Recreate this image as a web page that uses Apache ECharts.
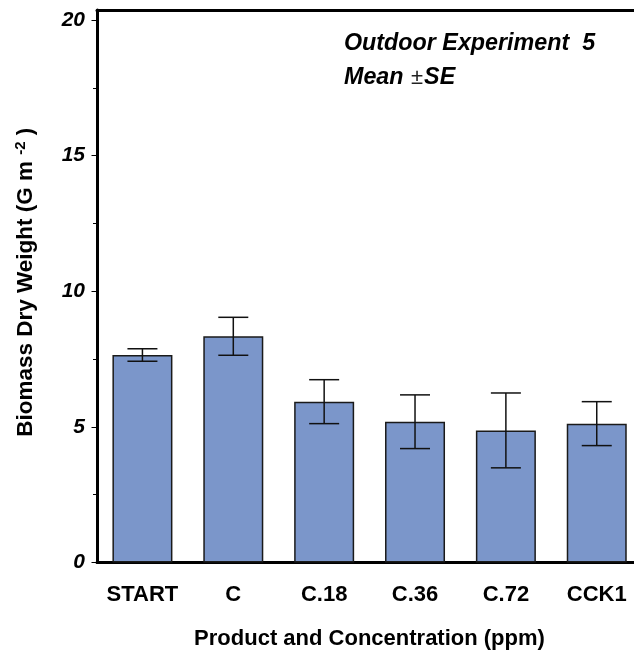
<!DOCTYPE html>
<html>
<head>
<meta charset="utf-8">
<script src="https://cdn.jsdelivr.net/npm/echarts@6/dist/echarts.min.js"></script>
<style>
  html, body { margin: 0; padding: 0; background: #fff; }
  #chart { width: 634px; height: 650px; }
</style>
</head>
<body>
<div id="chart"></div>
<script>
// Treatments (product and concentration)
const categories = ['START', 'C', 'C.18', 'C.36', 'C.72', 'CCK1'];
// Mean biomass dry weight, g m-2
const means = [7.65, 8.34, 5.93, 5.19, 4.87, 5.12];
// Standard error of each mean
const stdErrors = [0.23, 0.70, 0.81, 0.99, 1.38, 0.81];
// Y axis tick values
const majorTicks = [0, 5, 10, 15, 20];
const minorTicks = [2.5, 7.5, 12.5, 17.5];

const FONT = '"Liberation Sans", Arial, sans-serif';

const chart = echarts.init(document.getElementById('chart'), null, { renderer: 'canvas' });

// Treatment slots are positioned on a numeric axis; the frame runs past the right edge,
// so the visible range stops short of the last slot's outer boundary.
const slotIndex = categories.map((c, i) => i);
const barData = slotIndex.map(i => [i, means[i]]);
const errorData = slotIndex.map(i => [i, means[i] - stdErrors[i], means[i] + stdErrors[i]]);

chart.setOption({
  animation: false,
  backgroundColor: '#ffffff',
  grid: { left: 97, top: 10, right: 0, bottom: 87.5, containLabel: false, outerBoundsMode: 'none' },
  xAxis: [{
    type: 'value',
    min: -0.5,
    max: 5.41,
    axisLine: { show: true, onZero: false, lineStyle: { color: '#000', width: 3 } },
    axisTick: { show: false },
    splitLine: { show: false },
    axisLabel: {
      customValues: slotIndex,
      formatter: v => categories[Math.round(v)],
      color: '#000', fontFamily: FONT, fontWeight: 'bold', fontSize: 22, margin: 21
    },
    name: 'Product and Concentration (ppm)',
    nameLocation: 'middle',
    nameGap: 65,
    nameTextStyle: { color: '#000', fontFamily: FONT, fontWeight: 'bold', fontSize: 22, padding: [0, 0, 0, 8] }
  }, {
    type: 'value',
    min: -0.5,
    max: 5.41,
    position: 'top',
    axisLine: { show: true, onZero: false, lineStyle: { color: '#000', width: 3 } },
    axisTick: { show: false },
    axisLabel: { show: false },
    splitLine: { show: false }
  }],
  yAxis: [{
    type: 'value',
    min: 0,
    max: 20.37,
    position: 'left',
    axisLine: { show: true, onZero: false, lineStyle: { color: '#000', width: 3 } },
    axisTick: { show: true, length: 4, inside: false, customValues: minorTicks, lineStyle: { color: '#000', width: 1 } },
    axisLabel: {
      customValues: majorTicks,
      color: '#000', fontFamily: FONT, fontWeight: 'bold', fontStyle: 'italic', fontSize: 21, margin: 12
    },
    splitLine: { show: false },
    name: '{t|Biomass Dry Weight (G m }{s|-2}{t| )}',
    nameLocation: 'middle',
    nameGap: 58,
    nameTextStyle: {
      color: '#000',
      padding: [0, 0, 0, 8],
      rich: {
        t: { fontFamily: FONT, fontWeight: 'bold', fontSize: 22.5, color: '#000', lineHeight: 26 },
        s: { fontFamily: FONT, fontWeight: 'bold', fontSize: 15, color: '#000', verticalAlign: 'top', lineHeight: 26, padding: [0, 0, 10, 0] }
      }
    }
  }, {
    type: 'value',
    min: 0,
    max: 20.37,
    position: 'left',
    axisLine: { show: false, onZero: false },
    axisTick: { show: true, length: 5.5, customValues: majorTicks, lineStyle: { color: '#000', width: 1 } },
    axisLabel: { show: false },
    splitLine: { show: false }
  }],
  series: [{
    type: 'bar',
    data: barData,
    barWidth: 60,
    itemStyle: { color: '#7b96ca', borderColor: '#1a1a1a', borderWidth: 1.5 },
    z: 2
  }, {
    type: 'custom',
    data: errorData,
    z: 3,
    renderItem: function (params, api) {
      const x = api.value(0);
      const lo = api.coord([x, api.value(1)]);
      const hi = api.coord([x, api.value(2)]);
      const half = 15;
      const style = { stroke: '#111', lineWidth: 1.5 };
      return {
        type: 'group',
        children: [
          { type: 'line', shape: { x1: hi[0], y1: hi[1], x2: lo[0], y2: lo[1] }, style: style },
          { type: 'line', shape: { x1: hi[0] - half, y1: hi[1], x2: hi[0] + half, y2: hi[1] }, style: style },
          { type: 'line', shape: { x1: lo[0] - half, y1: lo[1], x2: lo[0] + half, y2: lo[1] }, style: style }
        ]
      };
    }
  }],
  graphic: [{
    type: 'text',
    left: 344,
    top: 32,
    style: { text: 'Outdoor Experiment  5', fill: '#000', font: 'italic bold 23.3px ' + FONT }
  }, {
    type: 'text',
    left: 344,
    top: 66,
    style: {
      text: '{b|Mean }{p|±}{b|SE}',
      rich: {
        b: { fill: '#000', fontFamily: FONT, fontWeight: 'bold', fontStyle: 'italic', fontSize: 23.3 },
        p: { fill: '#222', fontFamily: FONT, fontWeight: 'normal', fontSize: 22, padding: [0, 1, 0, 1] }
      }
    }
  }]
});
</script>
</body>
</html>
